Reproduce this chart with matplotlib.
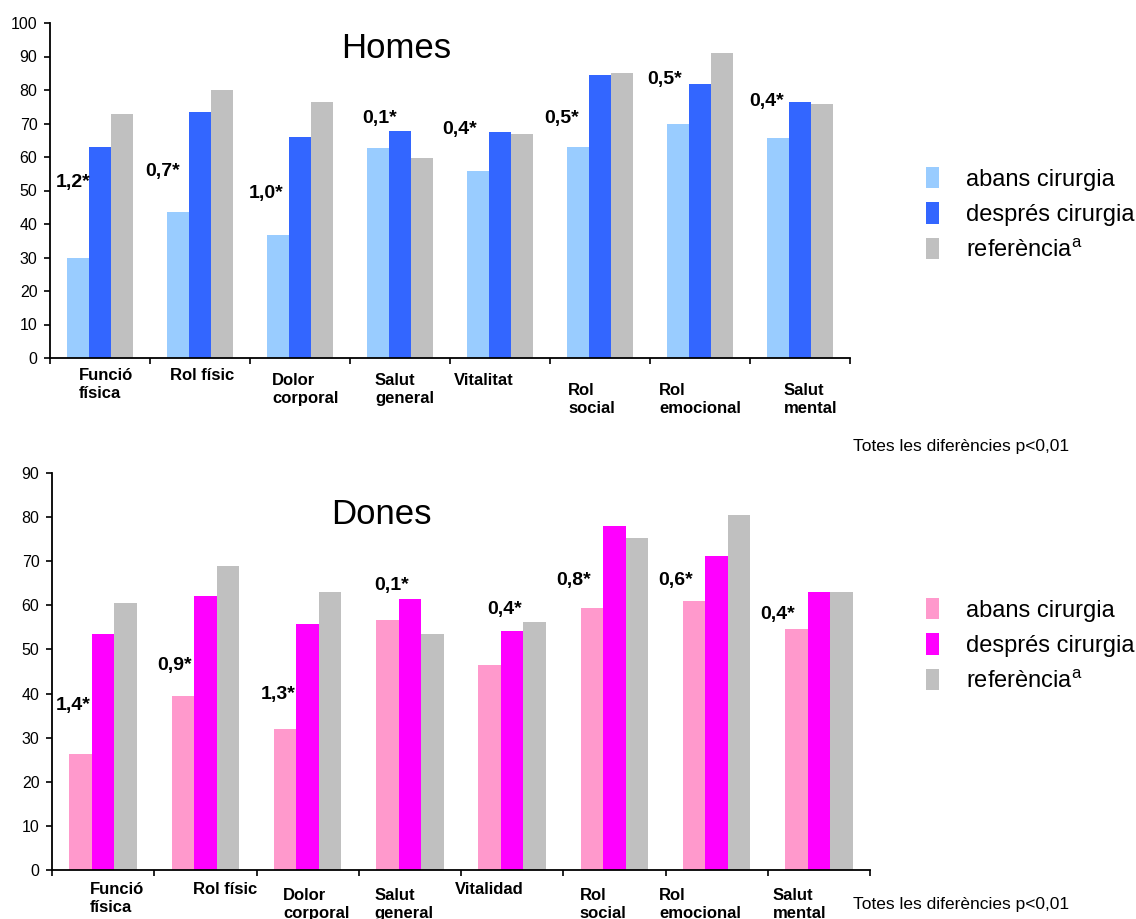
import matplotlib
matplotlib.use("Agg")
import matplotlib.pyplot as plt
import numpy as np

plt.rcParams['font.family'] = ['Liberation Sans', 'DejaVu Sans']
plt.rcParams['mathtext.fontset'] = 'custom'
plt.rcParams['mathtext.rm'] = 'Liberation Sans'

# dades homes
cat_homes = ["Funció\nfísica", "Rol físic", "Dolor\ncorporal", "Salut\ngeneral",
             "Vitalitat", "Rol\nsocial", "Rol\nemocional", "Salut\nmental"]
homes_abans = [30, 43.6, 36.7, 62.6, 55.8, 63.0, 69.8, 65.6]
homes_despres = [63.0, 73.4, 65.9, 67.7, 67.4, 84.4, 81.7, 76.4]
homes_ref = [72.8, 79.9, 76.4, 59.7, 66.8, 85.0, 91.0, 75.8]
homes_dif = ["1,2*", "0,7*", "1,0*", "0,1*", "0,4*", "0,5*", "0,5*", "0,4*"]

# dades dones
cat_dones = ["Funció\nfísica", "Rol físic", "Dolor\ncorporal", "Salut\ngeneral",
             "Vitalidad", "Rol\nsocial", "Rol\nemocional", "Salut\nmental"]
dones_abans = [26.3, 39.4, 31.9, 56.6, 46.4, 59.4, 60.9, 54.6]
dones_despres = [53.5, 62.1, 55.7, 61.4, 54.2, 77.9, 71.1, 63.0]
dones_ref = [60.5, 68.9, 63.0, 53.5, 56.2, 75.2, 80.4, 63.0]
dones_dif = ["1,4*", "0,9*", "1,3*", "0,1*", "0,4*", "0,8*", "0,6*", "0,4*"]

series = ["abans cirurgia", "després cirurgia", "referència$^{\\mathrm{a}}$"]
nota = "Totes les diferències p<0,01"

W, H = 1136, 919
fig = plt.figure(figsize=(W / 100, H / 100), dpi=100)


def panel(rect, cats, vals, difs, colors, ymax, title, title_xy,
          dif_pos, lab_pos, legend_top, nota_y):
    ax = fig.add_axes(rect)
    x = np.arange(len(cats))
    w = 0.22
    bars = []
    for k, (v, c) in enumerate(zip(vals, colors)):
        bars.append(ax.bar(x + (k - 1) * w, v, w, color=c, linewidth=0))
    ax.set_xlim(-0.5, len(cats) - 0.5)
    ax.set_ylim(0, ymax)
    ax.set_yticks(np.arange(0, ymax + 1, 10))
    ax.set_xticks(np.arange(-0.5, len(cats), 1.0))
    ax.set_xticklabels([])
    for s in ["top", "right"]:
        ax.spines[s].set_visible(False)
    for s in ["left", "bottom"]:
        ax.spines[s].set_linewidth(1.3)
    ax.tick_params(axis="y", length=4, width=1.2, pad=5, labelsize=11.5)
    ax.tick_params(axis="x", length=4, width=1.2)

    # etiquetes de categoria
    for i, c in enumerate(cats):
        dx, ytop = lab_pos[i]
        ax.text(i + dx, ytop, c, transform=ax.get_xaxis_transform(),
                ha="left", va="top", multialignment="left", fontsize=12,
                fontweight="bold", linespacing=1.25, clip_on=False)
    # mida de l'efecte
    for i, d in enumerate(difs):
        dx, yv = dif_pos[i]
        ax.text(i + dx, yv, d, ha="center", va="center", fontsize=14,
                fontweight="bold")
    fig.text(title_xy[0], title_xy[1], title, ha="center", va="center",
             fontsize=25)
    fig.legend(bars, series, loc="upper left",
               bbox_to_anchor=(926 / W, legend_top), frameon=False,
               fontsize=17, handlelength=0.55, handleheight=1.0,
               handletextpad=1.15, labelspacing=0.5, borderpad=0,
               borderaxespad=0)
    fig.text(853 / W, nota_y, nota, ha="left", va="center", fontsize=12.5)
    return ax


# posicions: (desplaçament x, y en fracció d'eix) de les etiquetes
lab_h = [(-0.21, -0.03), (-0.30, -0.03), (-0.28, -0.045), (-0.25, -0.045),
         (-0.46, -0.045), (-0.32, -0.075), (-0.41, -0.075), (-0.16, -0.075)]
dif_h = [(-0.27, 52.3), (-0.37, 55.8), (-0.34, 49.2), (-0.20, 71.5),
         (-0.40, 68.2), (-0.38, 71.5), (-0.35, 83.1), (-0.33, 76.5)]
panel([50 / W, 1 - 358 / H, 800 / W, 335 / H], cat_homes,
      [homes_abans, homes_despres, homes_ref], homes_dif,
      ["#99CCFF", "#3366FF", "#C0C0C0"], 100, "Homes",
      (396 / W, 1 - 48 / H), dif_h, lab_h, 1 - 167 / H, 1 - 446 / H)

lab_d = [(-0.13, -0.03), (-0.12, -0.03), (-0.24, -0.045), (-0.35, -0.045),
         (-0.56, -0.03), (-0.34, -0.045), (-0.56, -0.045), (-0.45, -0.045)]
dif_d = [(-0.29, 37.2), (-0.30, 46.4), (-0.29, 39.8), (-0.18, 64.4),
         (-0.07, 59.1), (-0.40, 65.6), (-0.40, 65.6), (-0.40, 58.0)]
panel([52 / W, 1 - 870 / H, 818 / W, 397 / H], cat_dones,
      [dones_abans, dones_despres, dones_ref], dones_dif,
      ["#FF99CC", "#FF00FF", "#C0C0C0"], 90, "Dones",
      (381 / W, 1 - 514 / H), dif_d, lab_d, 1 - 598 / H, 1 - 905 / H)

fig.savefig("out.png", dpi=100)
